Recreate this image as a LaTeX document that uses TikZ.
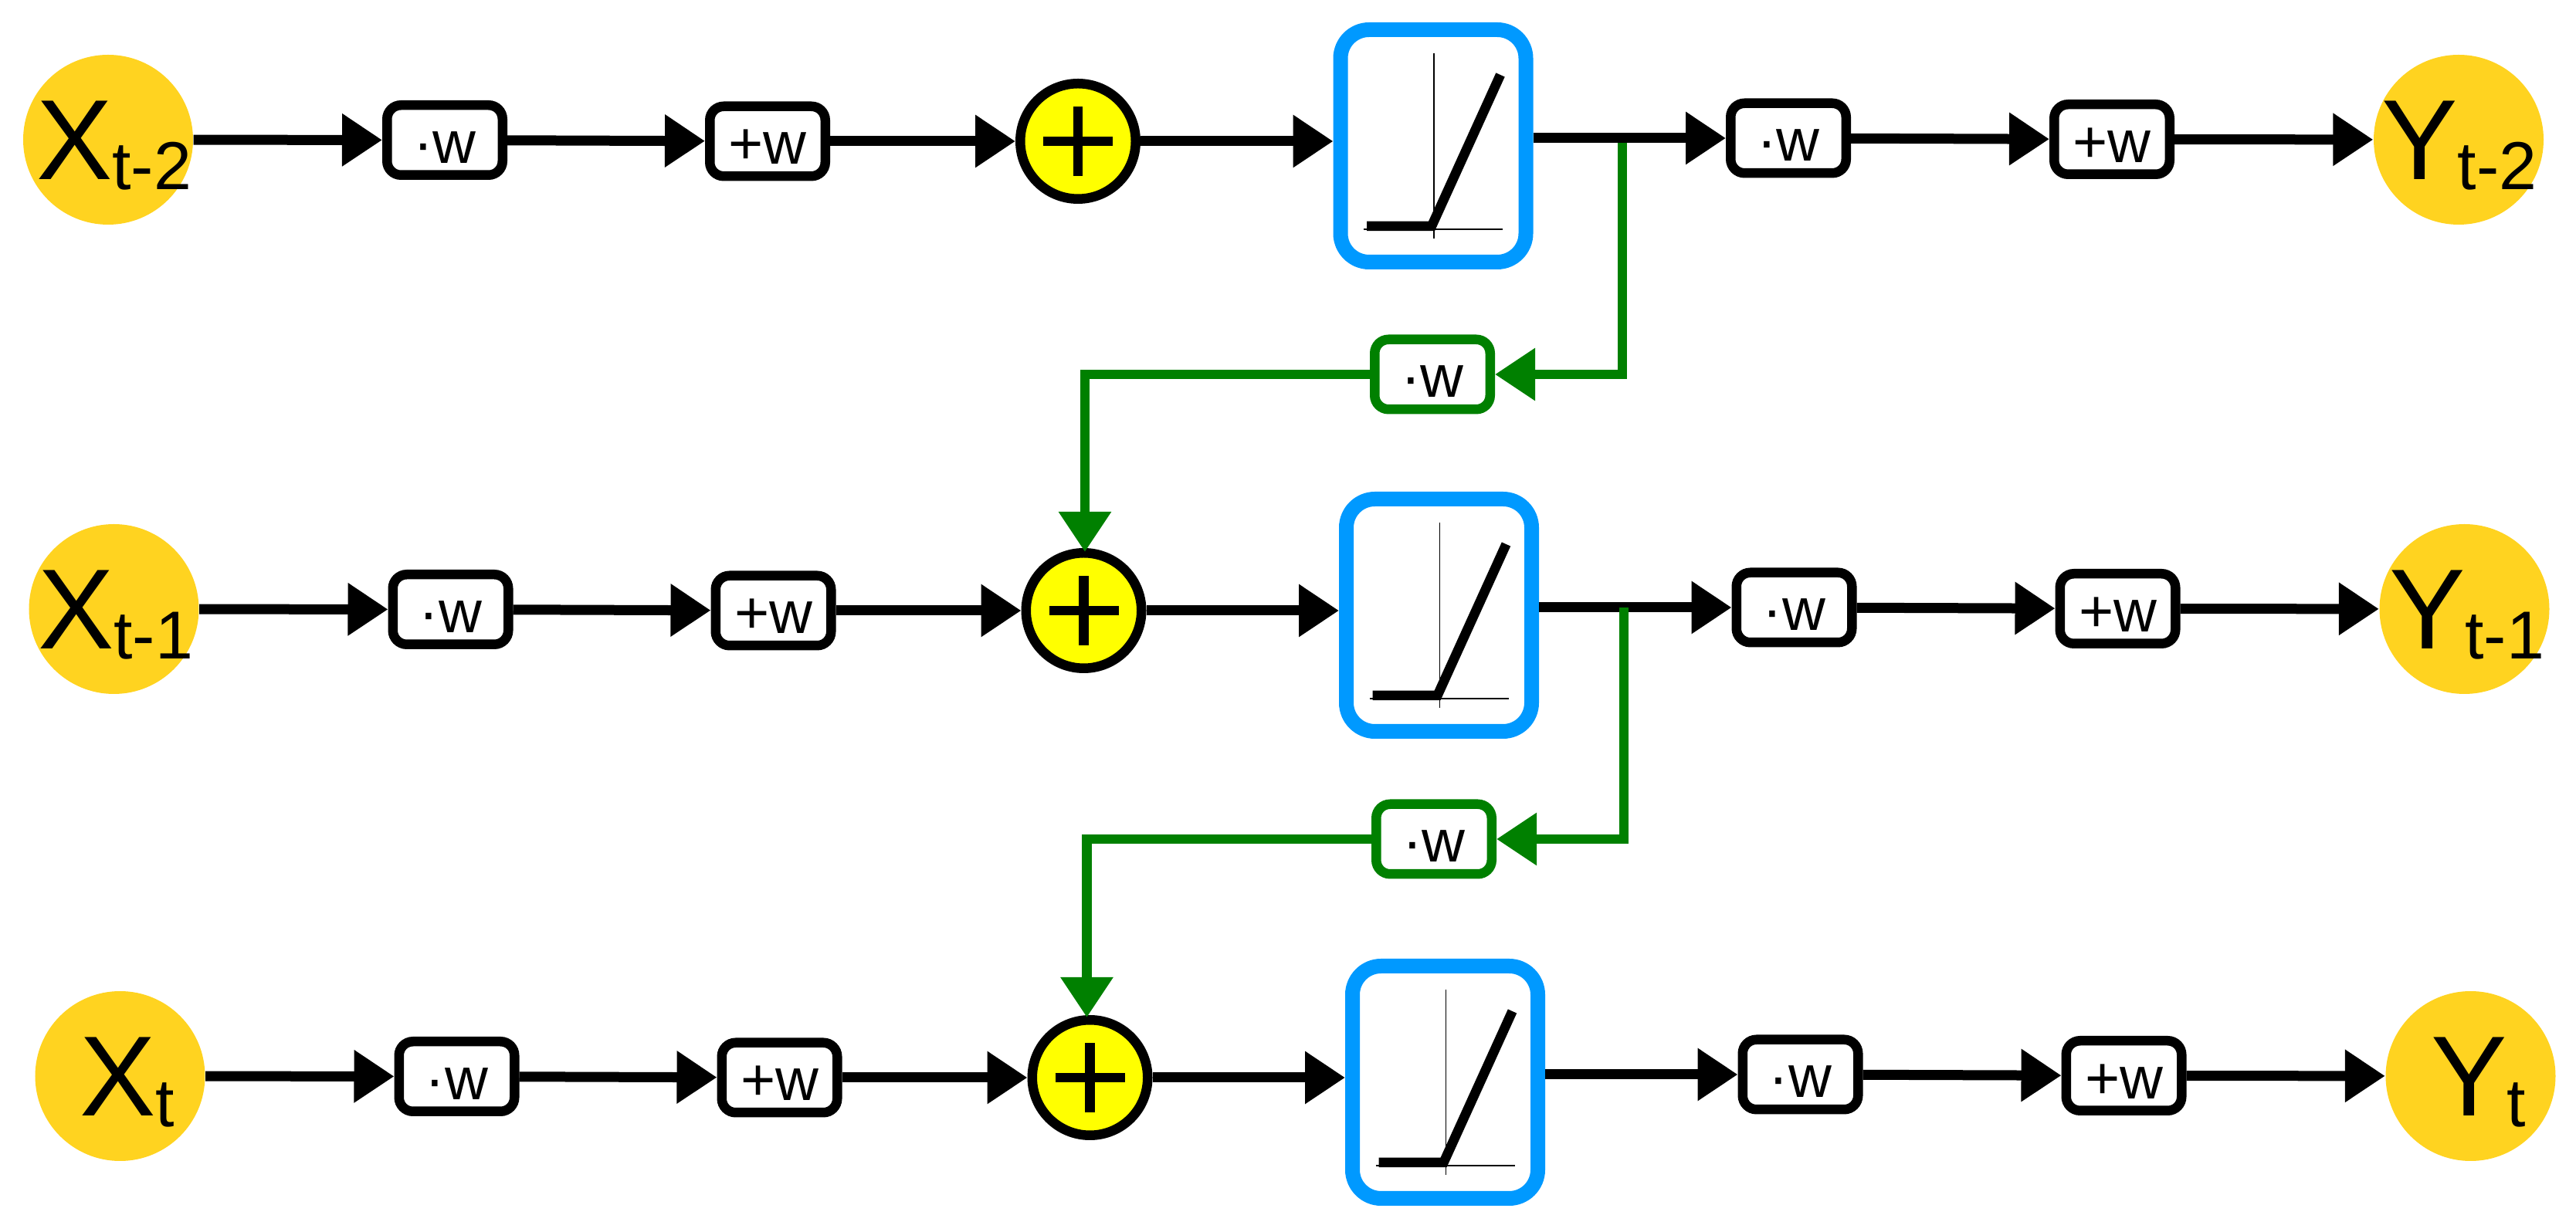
\documentclass[tikz,border=0pt]{standalone}
\usepackage{fontspec}
\setmainfont{Liberation Sans}
\usetikzlibrary{arrows.meta,calc}
\definecolor{portgold}{HTML}{FFD320}
\definecolor{sumyellow}{HTML}{FFFF00}
\definecolor{relublue}{HTML}{0099FF}
\definecolor{fbgreen}{HTML}{008000}
\tikzset{
  port/.style={circle, fill=portgold, minimum size=2.2cm, inner sep=0pt},
  portlabel/.style={
    inner sep=0pt, text height=1.34cm, text depth=0.3cm,
    font=\fontsize{42}{42}\selectfont
  },
  gain/.style={
    rectangle, rounded corners=0.18cm, draw=black, fill=white, line width=0.125cm,
    minimum width=1.495cm, minimum height=0.905cm, inner sep=0pt,
    text height=0.7cm, text depth=0.1cm, font=\fontsize{22}{22}\selectfont
  },
  fbgain/.style={gain, draw=fbgreen},
  sumnode/.style={circle, draw=black, fill=sumyellow, line width=0.125cm, minimum size=1.495cm, inner sep=0pt},
  plusbar/.style={line width=0.125cm},
  relubox/.style={
    rectangle, rounded corners=0.37cm, draw=relublue, fill=white, line width=0.19cm,
    minimum width=2.4cm, minimum height=3.01cm, inner sep=0pt
  },
  axisline/.style={line width=0.015cm},
  rampline/.style={line width=0.125cm},
  arrow/.style={-{Triangle[length=0.52cm,width=0.65cm]}, line width=0.13cm, draw=black},
  fbarrow/.style={-{Triangle[length=0.52cm,width=0.65cm]}, line width=0.125cm, draw=fbgreen}
}
\newcommand{\portsub}[1]{\raisebox{-0.13cm}{\fontsize{25}{25}\selectfont #1}}
\newcommand{\modelrow}[6]{
  \begin{scope}[shift={(#2,#3)}]
  \node[port] (in#1) at (1.40,14.15) {};
  \node[portlabel, xshift=#5cm] (inlabel#1) at (in#1) {X\portsub{#4}};
  \node[gain] (mul#1) at (5.76,14.145) {·w};
  \node[gain] (add#1) at (9.94,14.13) {+w};
  \node[sumnode] (sum#1) at (13.96,14.13) {};
  \node[relubox] (relu#1) at (18.56,14.07) {};
  \node[gain] (mulout#1) at (23.16,14.17) {·w};
  \node[gain] (addout#1) at (27.35,14.155) {+w};
  \node[port] (out#1) at (31.84,14.15) {};
  \node[portlabel, xshift=#6cm] (outlabel#1) at (out#1) {Y\portsub{#4}};
  \draw[plusbar] ($(sum#1)+(-0.45,0)$) -- ($(sum#1)+(0.45,0)$);
  \draw[plusbar] ($(sum#1)+(0,-0.45)$) -- ($(sum#1)+(0,0.45)$);
  \draw[axisline] ($(relu#1)+(0.01,1.2)$) -- ($(relu#1)+(0.01,-1.2)$);
  \draw[axisline] ($(relu#1)+(-0.9,-1.08)$) -- ($(relu#1)+(0.9,-1.08)$);
  \draw[rampline] ($(relu#1)+(-0.86,-1.04)$) -- ($(relu#1)+(-0.02,-1.04)$) -- ($(relu#1)+(0.87,0.92)$);
  \draw[arrow] (in#1) -- (mul#1);
  \draw[arrow] (mul#1) -- (add#1);
  \draw[arrow] (add#1) -- (sum#1);
  \draw[arrow] (sum#1) -- (relu#1.west |- sum#1);
  \draw[arrow] (relu#1.east |- mulout#1) -- (mulout#1);
  \draw[arrow] (mulout#1) -- (addout#1);
  \draw[arrow] (addout#1) -- (out#1);
  \end{scope}
}

\begin{document}
\begin{tikzpicture}
\useasboundingbox (0,0) rectangle (33.36,15.96);
\modelrow{a}{0}{0}{t-2}{0.075}{0.01}
\modelrow{b}{0.075}{-6.08}{t-1}{0.02}{0.03}
\modelrow{c}{0.155}{-12.13}{t}{0.09}{0.10}
\node[fbgain] (fba) at (18.55,11.11) {·w};
\node[fbgain] (fbb) at (18.57,5.09) {·w};
\coordinate (tapa) at (21.01,14.11);
\coordinate (tapb) at (21.03,8.09);
\draw[fbarrow] (tapa) |- (fba.east);
\draw[fbarrow] (tapb) |- (fbb.east);
\draw[fbarrow] (fba.west) -| ([xshift=0.015cm,yshift=-0.05cm]sumb.north);
\draw[fbarrow] (fbb.west) -| ([xshift=-0.04cm,yshift=-0.03cm]sumc.north);
\end{tikzpicture}
\end{document}
